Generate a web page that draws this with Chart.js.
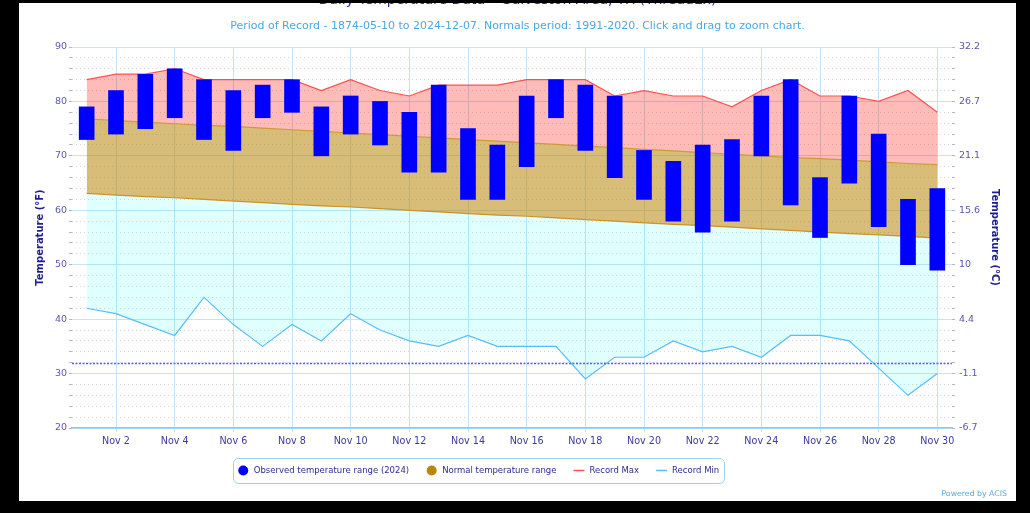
<!DOCTYPE html>
<html>
<head>
<meta charset="utf-8">
<script src="https://cdn.jsdelivr.net/npm/chart.js@4.4.1/dist/chart.umd.min.js"></script>
<style>
  html, body { margin: 0; padding: 0; background: #000; }
  body { width: 1030px; height: 513px; overflow: hidden; position: relative; }
  #wrap { position: absolute; left: 19px; top: 3px; width: 997px; height: 498px; background: #fff; overflow: hidden; }
  #chart { position: absolute; left: 0; top: -16px; }
</style>
</head>
<body>
<div id="wrap"><canvas id="chart" width="997" height="514"></canvas></div>
<script>
// November 2024, Galveston Area, TX (ThreadEx)
const days = [1,2,3,4,5,6,7,8,9,10,11,12,13,14,15,16,17,18,19,20,21,22,23,24,25,26,27,28,29,30];
const obsHigh = [79,82,85,86,84,82,83,84,79,81,80,78,83,75,72,81,84,83,81,71,69,72,73,81,84,66,81,74,62,64];
const obsLow  = [73,74,75,77,73,71,77,78,70,74,72,67,67,62,62,68,77,71,66,62,58,56,58,70,61,55,65,57,50,49];
const normalHigh = [76.8,76.5,76.2,75.9,75.6,75.4,75.1,74.8,74.5,74.2,73.9,73.6,73.3,73.0,72.7,
                    72.4,72.1,71.8,71.5,71.2,70.9,70.6,70.3,70.0,69.7,69.5,69.2,68.9,68.6,68.4];
const normalLow  = [63.1,62.8,62.5,62.3,62.0,61.7,61.4,61.1,60.8,60.6,60.3,60.0,59.7,59.4,59.1,
                    58.9,58.6,58.3,58.0,57.7,57.4,57.2,56.9,56.6,56.3,56.0,55.7,55.5,55.2,54.9];
const recordMax = [84,85,85,86,84,84,84,84,82,84,82,81,83,83,83,84,84,84,81,82,81,81,79,82,84,81,81,80,82,78];
const recordMin = [42,41,39,37,44,39,35,39,36,41,38,36,35,37,35,35,35,29,33,33,36,34,35,33,37,37,36,31,26,30];

const xTickDays = [2,4,6,8,10,12,14,16,18,20,22,24,26,28,30];
const fMajorTicks = [20,30,40,50,60,70,80,90];
const cTickLabels = ['-6.7','-1.1','4.4','10','15.6','21.1','26.7','32.2'];
const freezing = 32;

const titleText = 'Daily Temperature Data – Galveston Area, TX (ThreadEx)';
const subtitleText = 'Period of Record - 1874-05-10 to 2024-12-07. Normals period: 1991-2020. Click and drag to zoom chart.';

// colours
const obsColor = '#0000ff';
const normalMarker = '#b8860b';
const normalLine = '#cf9a35';
const normalFill = 'rgba(184,134,11,0.55)';
const maxLine = '#ff5050';
const maxFill = 'rgba(250,10,0,0.28)';
const minLine = '#5cbaf8';
const minFill = 'rgba(0,255,255,0.12)';
const gridBlue = '#c6e2f4';
const minorGray = '#d6d6d6';
const axisLabel = '#3a3aa0';
const yLabel = '#5858aa';
const axisTitle = '#1e1e8c';

Chart.defaults.font.family = "'DejaVu Sans', sans-serif";

const pts = arr => days.map((d, i) => ({x: d, y: arr[i]}));

const freezingLine = {
    id: 'freezingLine',
    afterDatasetsDraw(chart) {
        const {ctx, chartArea: a, scales: {y}} = chart;
        const py = Math.round(y.getPixelForValue(freezing)) + 0.5;
        ctx.save();
        ctx.strokeStyle = '#5b5bf2';
        ctx.lineWidth = 1.5;
        ctx.setLineDash([2, 1.5]);
        ctx.beginPath();
        ctx.moveTo(a.left, py);
        ctx.lineTo(a.right, py);
        ctx.stroke();
        ctx.restore();
    }
};

// legend drawn in a box below the axis, like the original
const legendItems = [
    {label: 'Observed temperature range (2024)', color: obsColor, marker: 'circle'},
    {label: 'Normal temperature range', color: normalMarker, marker: 'circle'},
    {label: 'Record Max', color: maxLine, marker: 'line'},
    {label: 'Record Min', color: minLine, marker: 'line'}
];

const legendBox = {
    id: 'legendBox',
    afterDraw(chart) {
        const ctx = chart.ctx;
        const box = {x: 214, y: 471, w: 491, h: 25};
        ctx.save();
        ctx.strokeStyle = '#9cd0f0';
        ctx.lineWidth = 1;
        ctx.beginPath();
        ctx.roundRect(box.x + 0.5, box.y + 0.5, box.w, box.h, 5);
        ctx.stroke();

        ctx.font = "8.5px 'DejaVu Sans'";
        const markW = 11, gap = 5, itemGap = 17;
        let total = 0;
        legendItems.forEach((it, i) => {
            total += markW + gap + ctx.measureText(it.label).width + (i ? itemGap : 0);
        });
        let x = box.x + (box.w - total) / 2;
        const cy = box.y + box.h / 2;
        legendItems.forEach(it => {
            if (it.marker === 'circle') {
                ctx.fillStyle = it.color;
                ctx.beginPath();
                ctx.arc(x + markW / 2, cy, 5, 0, Math.PI * 2);
                ctx.fill();
            } else {
                ctx.strokeStyle = it.color;
                ctx.lineWidth = 1.5;
                ctx.beginPath();
                ctx.moveTo(x, cy);
                ctx.lineTo(x + markW, cy);
                ctx.stroke();
            }
            x += markW + gap;
            ctx.fillStyle = '#2c2c90';
            ctx.textBaseline = 'middle';
            ctx.textAlign = 'left';
            ctx.fillText(it.label, x, cy);
            x += ctx.measureText(it.label).width + itemGap;
        });

        ctx.font = "7.8px 'DejaVu Sans'";
        ctx.fillStyle = '#5aaae2';
        ctx.textAlign = 'right';
        ctx.fillText('Powered by ACIS', 988, 507);
        ctx.restore();
    }
};

const yGrid = {
    color: ctx => (ctx.tick && ctx.tick.value % 10 === 0) ? gridBlue : minorGray,
    lineWidth: 1,
    tickLength: 3,
    tickColor: '#b4b4c8'
};
const yBorder = {
    display: false,
    dash: ctx => (ctx.tick && ctx.tick.value % 10 !== 0) ? [1, 3] : []
};

new Chart(document.getElementById('chart'), {
    type: 'line',
    data: {
        datasets: [
            {
                type: 'bar',
                label: 'Observed temperature range (2024)',
                data: days.map((d, i) => ({x: d, y: [obsLow[i], obsHigh[i]]})),
                backgroundColor: obsColor,
                borderWidth: 0,
                barThickness: 15,
                order: 0
            },
            {
                label: 'Normal temperature range',
                data: pts(normalHigh),
                borderColor: normalLine,
                backgroundColor: normalFill,
                fill: 2,
                order: 1
            },
            {
                label: 'Normal low',
                data: pts(normalLow),
                borderColor: normalLine,
                backgroundColor: minFill,
                fill: 4,
                order: 1
            },
            {
                label: 'Record Max',
                data: pts(recordMax),
                borderColor: maxLine,
                backgroundColor: maxFill,
                fill: 1,
                order: 1
            },
            {
                label: 'Record Min',
                data: pts(recordMin),
                borderColor: minLine,
                fill: false,
                order: 1
            }
        ]
    },
    options: {
        responsive: false,
        animation: false,
        elements: {
            point: { radius: 0 },
            line: { borderWidth: 1.2, tension: 0 }
        },
        layout: { padding: { top: 0, left: 0, right: 0, bottom: 48 } },
        plugins: {
            legend: { display: false },
            tooltip: { enabled: false },
            title: {
                display: true,
                text: titleText,
                color: '#2a2a9c',
                font: { size: 14, weight: 'normal' },
                padding: { top: 5.4, bottom: 0 }
            },
            subtitle: {
                display: true,
                text: subtitleText,
                color: '#4aa8e2',
                font: { size: 11 },
                padding: { top: 10.2, bottom: 14.4 }
            }
        },
        scales: {
            x: {
                type: 'linear',
                min: 0.5,
                max: 30.5,
                offset: false,
                afterBuildTicks: s => { s.ticks = xTickDays.map(v => ({value: v})); },
                afterFit: s => { s.height = 25; },
                grid: { color: gridBlue, tickLength: 4, tickColor: gridBlue, offset: false },
                border: { display: true, color: '#8ec8ee', width: 1.5 },
                ticks: {
                    callback: v => 'Nov ' + v,
                    color: axisLabel,
                    font: { size: 9.6 },
                    padding: 4,
                    maxRotation: 0,
                    autoSkip: false
                }
            },
            y: {
                position: 'left',
                min: 20,
                max: 90,
                afterFit: s => { s.width = 53; },
                grid: yGrid,
                border: yBorder,
                ticks: {
                    stepSize: 2,
                    autoSkip: false,
                    padding: 2,
                    color: yLabel,
                    font: { size: 9.5 },
                    callback: v => fMajorTicks.includes(v) ? String(v) : ''
                },
                title: {
                    display: true,
                    text: 'Temperature (°F)',
                    color: axisTitle,
                    font: { size: 10, weight: 'bold' },
                    padding: { top: 15, bottom: 0 }
                }
            },
            yR: {
                position: 'right',
                min: 20,
                max: 90,
                afterFit: s => { s.width = 64; },
                grid: { drawOnChartArea: false, tickLength: 3, tickColor: '#b4b4c8' },
                border: { display: false },
                ticks: {
                    stepSize: 2,
                    autoSkip: false,
                    padding: 4,
                    color: yLabel,
                    font: { size: 9.5 },
                    callback: v => {
                        const k = fMajorTicks.indexOf(v);
                        return k >= 0 ? cTickLabels[k] : '';
                    }
                },
                title: {
                    display: true,
                    text: 'Temperature (°C)',
                    color: axisTitle,
                    font: { size: 10, weight: 'bold' },
                    padding: { top: 15, bottom: 0 }
                }
            }
        }
    },
    plugins: [freezingLine, legendBox]
});
</script>
</body>
</html>
